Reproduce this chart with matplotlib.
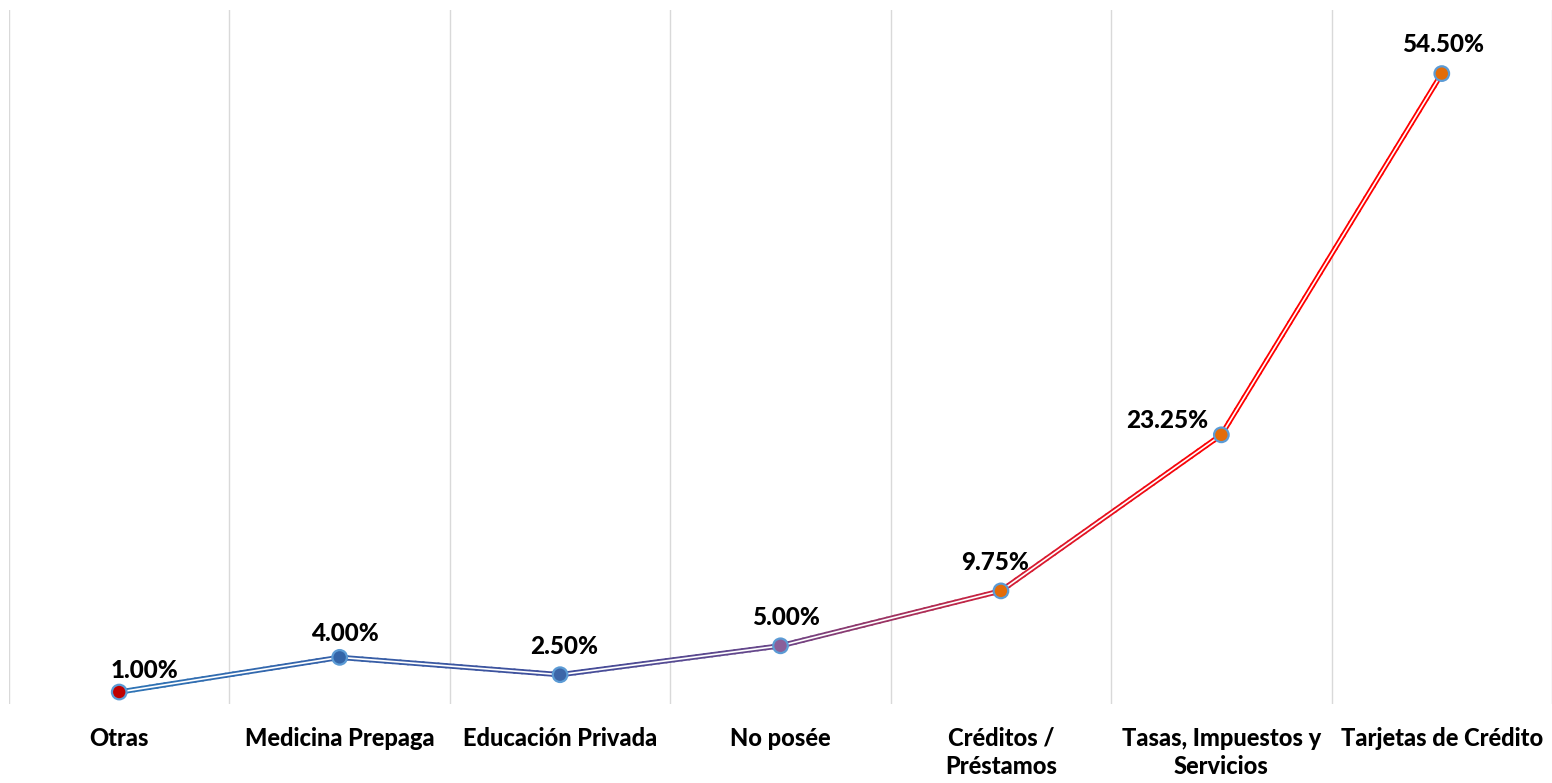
import numpy as np
import matplotlib
matplotlib.use("Agg")
import matplotlib.pyplot as plt
from matplotlib.collections import LineCollection
from matplotlib.colors import to_rgb

categories = ["Otras", "Medicina Prepaga", "Educación Privada", "No posée",
              "Créditos /\nPréstamos", "Tasas, Impuestos y\nServicios", "Tarjetas de Crédito"]
values = [1.00, 4.00, 2.50, 5.00, 9.75, 23.25, 54.50]
labels = ["1.00%", "4.00%", "2.50%", "5.00%", "9.75%", "23.25%", "54.50%"]

# style
line_stops = ['#2E75B6', '#3560A8', '#404E9B', '#6A4689', '#D0203A', '#FF0000', '#FF0000']
marker_faces = ['#C00000', '#3465A8', '#3D66A8', '#8A5F9A', '#E36C09', '#E36C09', '#E36C09']
label_offsets = [(18, 7), (4, 9), (3, 12), (4, 12), (-4, 12), (-39, 2), (1, 13)]

plt.rcParams['font.family'] = ['Lato', 'DejaVu Sans']
fig = plt.figure(figsize=(15.52, 7.83), dpi=100)
ax = fig.add_axes([9/1552, (783-703.6)/783, 1 - 9/1552, (703.6-10)/783])

x = np.arange(len(values))
y = np.array(values)

# gradient double line
for i in range(len(x) - 1):
    t = np.linspace(0, 1, 30)
    xs = x[i] + t * (x[i+1] - x[i])
    ys = y[i] + t * (y[i+1] - y[i])
    c0 = np.array(to_rgb(line_stops[i])); c1 = np.array(to_rgb(line_stops[i+1]))
    pts = np.column_stack([xs, ys]).reshape(-1, 1, 2)
    segs = np.concatenate([pts[:-1], pts[1:]], axis=1)
    cols = [c0 + (c1 - c0) * tt for tt in (t[:-1] + t[1:]) / 2]
    ax.add_collection(LineCollection(segs, colors=cols, linewidths=3.8,
                                     capstyle='round', joinstyle='round', zorder=3))
ax.plot(x, y, color='white', linewidth=1.2, solid_joinstyle='round', zorder=4)
ax.scatter(x, y, s=110, c=marker_faces, edgecolors='#5B9BD5', linewidths=1.6, zorder=5)

for xi, yi, lab, off in zip(x, y, labels, label_offsets):
    ax.annotate(lab, (xi, yi), xytext=off, textcoords='offset points',
                ha='center', va='bottom', fontsize=17.5, fontweight='black', color='black')

ax.set_xlim(-0.5, len(values) - 0.5)
ax.set_ylim(0, 60)
ax.set_xticks(x)
ax.set_xticklabels(categories, fontsize=17, fontweight='black', linespacing=1.3)
ax.set_xticks(np.arange(-0.5, len(values) - 0.4, 1), minor=True)
ax.tick_params(axis='x', which='both', length=0, pad=16.5)
ax.set_yticks([])
ax.grid(True, which='minor', axis='x', color='#D9D9D9', linewidth=1)
ax.grid(False, which='major')
for s in ax.spines.values():
    s.set_visible(False)

fig.savefig("out.png", dpi=100)
